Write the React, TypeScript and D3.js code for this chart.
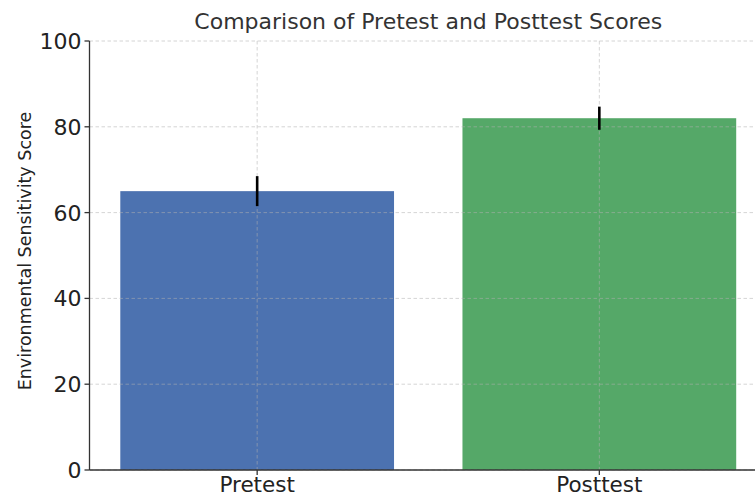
import React from "react";
import * as d3 from "d3";

const categories = ["Pretest", "Posttest"];
const means = [65, 82];
const errors = [3.5, 2.7];
const colors = ["#4c72b0", "#55a868"];
const yTicks = [0, 20, 40, 60, 80, 100];

const W = 755;
const H = 497;
const left = 89.5;
const right = 767;
const top = 41;
const bottom = 470;

export default function App() {
  const x = d3.scaleLinear().domain([-0.49, 1.49]).range([left, right]);
  const y = d3.scaleLinear().domain([0, 100]).range([bottom, top]);
  const bw = x(0.4) - x(-0.4);
  const font = "DejaVu Sans, sans-serif";
  return (
    <svg width={W} height={H} style={{ position: "absolute", left: 0, top: 0, display: "block" }}>
      <rect width={W} height={H} fill="#fff" />
      {categories.map((c, i) => (
        <rect key={c} x={x(i) - bw / 2} y={y(means[i])} width={bw} height={y(0) - y(means[i])} fill={colors[i]} />
      ))}
      {yTicks.map((t) => (
        <line key={"gy" + t} x1={left} x2={right} y1={y(t)} y2={y(t)} stroke="#b0b0b0" strokeOpacity={0.6} strokeWidth={0.9} strokeDasharray="3.5,2.5" />
      ))}
      {categories.map((c, i) => (
        <line key={"gx" + c} x1={x(i)} x2={x(i)} y1={top} y2={bottom} stroke="#b0b0b0" strokeOpacity={0.6} strokeWidth={0.9} strokeDasharray="3.5,2.5" />
      ))}
      {categories.map((c, i) => (
        <line key={"e" + c} x1={x(i)} x2={x(i)} y1={y(means[i] + errors[i])} y2={y(means[i] - errors[i])} stroke="#000" strokeWidth={2.6} />
      ))}
      <line x1={left} x2={left} y1={top} y2={bottom} stroke="#333" strokeWidth={1.3} />
      <line x1={left} x2={right} y1={bottom} y2={bottom} stroke="#333" strokeWidth={1.3} />
      {yTicks.map((t) => (
        <g key={"t" + t}>
          <line x1={left - 5} x2={left} y1={y(t)} y2={y(t)} stroke="#333" strokeWidth={1.3} />
          <text x={left - 8} y={y(t)} dy="0.36em" textAnchor="end" fontFamily={font} fontSize={22} fill="#222">{t}</text>
        </g>
      ))}
      {categories.map((c, i) => (
        <g key={"xt" + c}>
          <line x1={x(i)} x2={x(i)} y1={bottom} y2={bottom + 5} stroke="#333" strokeWidth={1.3} />
          <text x={x(i)} y={bottom + 21.5} textAnchor="middle" fontFamily={font} fontSize={21.5} fill="#222">{c}</text>
        </g>
      ))}
      <text transform={`translate(31,${(112 + 390) / 2}) rotate(-90)`} textAnchor="middle" fontFamily={font} fontSize={17.5} fill="#222">Environmental Sensitivity Score</text>
      <text x={(left + right) / 2} y={29} textAnchor="middle" fontFamily={font} fontSize={22} fill="#333">Comparison of Pretest and Posttest Scores</text>
    </svg>
  );
}
